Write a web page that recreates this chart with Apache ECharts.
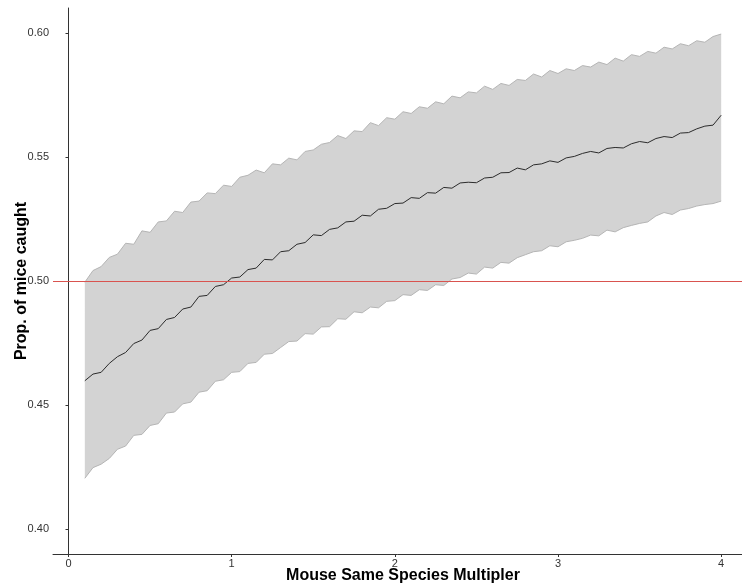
<!DOCTYPE html>
<html>
<head>
<meta charset="utf-8">
<script src="https://cdn.jsdelivr.net/npm/echarts@6/dist/echarts.min.js"></script>
<style>
html,body{margin:0;padding:0;background:#fff;}
#chart{width:742px;height:584px;}
</style>
</head>
<body>
<div id="chart"></div>
<script>
// x positions: 0.10 .. 4.00 in steps of 0.05
const xValues = [0.10,0.15,0.20,0.25,0.30,0.35,0.40,0.45,0.50,0.55,0.60,0.65,0.70,0.75,0.80,0.85,0.90,0.95,1.00,1.05,1.10,1.15,1.20,1.25,1.30,1.35,1.40,1.45,1.50,1.55,1.60,1.65,1.70,1.75,1.80,1.85,1.90,1.95,2.00,2.05,2.10,2.15,2.20,2.25,2.30,2.35,2.40,2.45,2.50,2.55,2.60,2.65,2.70,2.75,2.80,2.85,2.90,2.95,3.00,3.05,3.10,3.15,3.20,3.25,3.30,3.35,3.40,3.45,3.50,3.55,3.60,3.65,3.70,3.75,3.80,3.85,3.90,3.95,4.00];
const meanValues = [.4598,.4625,.4632,.4668,.4695,.4712,.4748,.4762,.4801,.4808,
  .4845,.4853,.4887,.4895,.4938,.4942,.4978,.4985,.5012,.5016,
  .5046,.5052,.5087,.5085,.5118,.5122,.5148,.5155,.5186,.5183,
  .5208,.5214,.5238,.5241,.5265,.5262,.5289,.5293,.5312,.5314,
  .5336,.5333,.5356,.5354,.5377,.5374,.5395,.5398,.5396,.5415,
  .5418,.5436,.5437,.5455,.5448,.5468,.5472,.5484,.5478,.5496,
  .5502,.5514,.5522,.5516,.5534,.5538,.5536,.5553,.5562,.5557,
  .5574,.5582,.5578,.5596,.5598,.5613,.5624,.5628,.5668];
const upperValues = [.4995,.5042,.5058,.5095,.5108,.5152,.5148,.5202,.5196,.5238,
  .5242,.5281,.5276,.5318,.5322,.5355,.5352,.5386,.5381,.5418,
  .5426,.5447,.5436,.5472,.5468,.5495,.5488,.5522,.5528,.5551,
  .5558,.5586,.5574,.5605,.5602,.5638,.5626,.5658,.5652,.5682,
  .5675,.5702,.5696,.5722,.5714,.5745,.5738,.5762,.5758,.5785,
  .5772,.5796,.5788,.5812,.5808,.5834,.5822,.5848,.5836,.5855,
  .5848,.5868,.5862,.5882,.5872,.5898,.5886,.5912,.5905,.5925,
  .5918,.5942,.5935,.5956,.5948,.5968,.5962,.5985,.5995];
const lowerValues = [.4205,.4248,.4262,.4285,.4322,.4335,.4378,.4382,.4418,.4425,
  .4468,.4472,.4505,.4512,.4552,.4558,.4596,.4602,.4632,.4635,
  .4668,.4672,.4705,.4708,.4732,.4756,.4758,.4788,.4786,.4815,
  .4816,.4848,.4846,.4876,.4872,.4895,.4892,.4918,.4921,.4945,
  .4942,.4965,.4962,.4985,.4982,.5008,.5014,.5032,.5028,.5056,
  .5052,.5075,.5072,.5094,.5106,.5118,.5122,.5142,.5138,.5158,
  .5164,.5172,.5185,.5182,.5205,.5198,.5215,.5224,.5232,.5238,
  .5262,.5276,.5268,.5286,.5292,.5302,.5308,.5312,.5322];
const xTicks = [0, 1, 2, 3, 4];
const yTicks = [0.40, 0.45, 0.50, 0.55, 0.60];
const referenceLine = 0.5;

const pairs = (ys) => xValues.map((x, i) => [x, ys[i]]);

const chart = echarts.init(document.getElementById('chart'), null, {renderer: 'canvas'});
const FONT = 'Liberation Sans, Arial, sans-serif';
const axisText = {color: '#333', fontSize: 11, fontFamily: FONT};
chart.setOption({
  animation: false,
  backgroundColor: '#fff',
  grid: {left: 53, top: 8, width: 700, height: 546, containLabel: false, outerBoundsMode: 'none'},
  xAxis: {
    type: 'value', min: -0.095, max: 4.195,
    name: 'Mouse Same Species Multipler', nameLocation: 'middle', nameGap: 14, nameMoveOverlap: false,
    nameTextStyle: {fontSize: 16, fontWeight: 'bold', color: '#000', fontFamily: FONT},
    axisLine: {lineStyle: {color: '#333', width: 1}},
    axisTick: {show: true, length: 3, lineStyle: {color: '#333'}, customValues: xTicks},
    axisLabel: Object.assign({margin: 4, customValues: xTicks, formatter: v => String(v)}, axisText),
    splitLine: {show: false}
  },
  yAxis: {
    type: 'value', min: 0.39, max: 0.61,
    name: 'Prop. of mice caught', nameLocation: 'middle', nameGap: 23, nameMoveOverlap: false,
    nameTextStyle: {fontSize: 16, fontWeight: 'bold', color: '#000', fontFamily: FONT},
    axisLine: {show: true, lineStyle: {color: '#333', width: 1}},
    axisTick: {show: true, length: 3, lineStyle: {color: '#333'}, customValues: yTicks},
    axisLabel: Object.assign({margin: 4, customValues: yTicks, formatter: v => v.toFixed(2)}, axisText),
    splitLine: {show: false}
  },
  series: [
    {
      type: 'custom', silent: true, z: 1,
      data: [0],
      renderItem: function (params, api) {
        const pts = [];
        for (let i = 0; i < xValues.length; i++) pts.push(api.coord([xValues[i], upperValues[i]]));
        for (let i = xValues.length - 1; i >= 0; i--) pts.push(api.coord([xValues[i], lowerValues[i]]));
        return {type: 'polygon', shape: {points: pts}, style: {fill: '#d3d3d3', stroke: null}};
      }
    },
    {type: 'line', data: pairs(lowerValues), symbol: 'none',
      lineStyle: {color: '#b5b5b5', width: 1}, silent: true, z: 2},
    {type: 'line', data: pairs(upperValues), symbol: 'none',
      lineStyle: {color: '#b5b5b5', width: 1}, silent: true, z: 2},
    {type: 'line', data: pairs(meanValues), symbol: 'none',
      lineStyle: {color: '#2b2b2b', width: 1}, silent: true, z: 3,
      markLine: {silent: true, symbol: 'none', label: {show: false},
        lineStyle: {color: '#d9534f', width: 1, type: 'solid'},
        data: [{yAxis: referenceLine}]}}
  ]
});
</script>
</body>
</html>
